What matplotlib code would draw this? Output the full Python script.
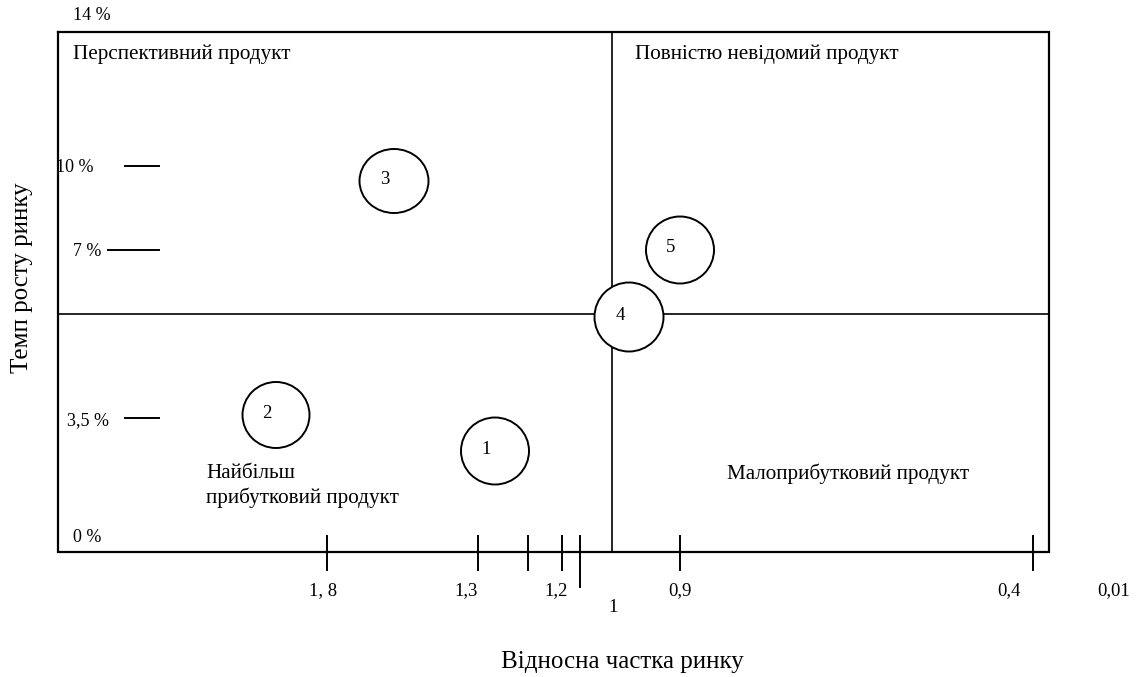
"""BCG-style matrix: market growth vs relative market share (canvas drawn in pixel units)."""

import matplotlib

matplotlib.use("Agg")
import matplotlib.pyplot as plt
from matplotlib.patches import Ellipse

plt.rcParams["font.family"] = ["Liberation Serif", "DejaVu Serif"]
INK = "black"
FS_NUM = 13.5   # axis numbers
FS_TXT = 15.2   # quadrant names
FS_TITLE = 18

# frame and quadrant split (canvas units = pixels)
BOX_L, BOX_T, BOX_R, BOX_B = 58, 32, 1049, 552
MID_X, MID_Y = 612, 314

# products (circles)
prod_labels = ["1", "2", "3", "4", "5"]
prod_x = [495, 276, 394, 629, 680]
prod_y = [451, 415, 181, 317, 250]
prod_w = [68, 67, 69, 69, 68]
prod_h = [67, 66, 64, 69, 67]

# x-axis ticks (relative market share)
xtick_pos = [327, 478, 528, 562, 580, 680, 1033]
xtick_low = [570, 570, 570, 570, 587, 570, 570]
xlab_text = ["1, 8", "1,3", "1,2", "1", "0,9", "0,4", "0,01"]
xlab_x = [323, 466, 556, 613, 680, 1009, 1114]
xlab_y = [591, 591, 591, 607, 591, 591, 591]

# y-axis marks (market growth rate)
ydash_y = [166, 250, 418]
ydash_x0 = [125, 108, 125]
ylab_text = ["10 %", "7 %", "3,5 %"]
ylab_right = [93, 101, 109]
ylab_y = [168, 252, 421]

quad_text = [
    "Перспективний продукт",
    "Повністю невідомий продукт",
    "Найбільш\nприбутковий продукт",
    "Малоприбутковий продукт",
]
quad_x = [73, 635, 206, 727]
quad_y = [54, 54, 486, 474]

fig = plt.figure(figsize=(11.42, 6.77), dpi=100)
ax = fig.add_axes([0, 0, 1, 1])
ax.set_xlim(0, 1142)
ax.set_ylim(677, 0)
ax.axis("off")

# frame
ax.plot(
    [BOX_L, BOX_R, BOX_R, BOX_L, BOX_L],
    [BOX_T, BOX_T, BOX_B, BOX_B, BOX_T],
    color=INK,
    lw=1.6,
    solid_joinstyle="miter",
)
ax.plot([MID_X, MID_X], [BOX_T, BOX_B], color=INK, lw=1.2)
ax.plot([BOX_L, BOX_R], [MID_Y, MID_Y], color=INK, lw=1.2)

# x ticks
for x, lo in zip(xtick_pos, xtick_low):
    ax.plot([x, x], [536, lo], color=INK, lw=1.4)
for t, x, y in zip(xlab_text, xlab_x, xlab_y):
    ax.text(x, y, t, ha="center", va="center", fontsize=FS_NUM, color=INK)

# y dashes
for y, x0 in zip(ydash_y, ydash_x0):
    ax.plot([x0, 159], [y, y], color=INK, lw=1.4)
for t, x, y in zip(ylab_text, ylab_right, ylab_y):
    ax.text(x, y, t, ha="right", va="center", fontsize=FS_NUM - 0.5, color=INK)
ax.text(73, 16, "14 %", ha="left", va="center", fontsize=FS_NUM - 0.5, color=INK)
ax.text(73, 537, "0 %", ha="left", va="center", fontsize=FS_NUM - 0.5, color=INK)

# products
for lab, x, y, w, h in zip(prod_labels, prod_x, prod_y, prod_w, prod_h):
    ax.add_patch(
        Ellipse((x, y), w, h, facecolor="white", edgecolor=INK, lw=1.4, zorder=3)
    )
    ax.text(x - 9, y - 2, lab, ha="center", va="center", fontsize=FS_NUM, color=INK, zorder=4)

# quadrant names
for t, x, y in zip(quad_text, quad_x, quad_y):
    ax.text(x, y, t, ha="left", va="center", fontsize=FS_TXT, color=INK, linespacing=1.3)

# axis titles
ax.text(622, 662, "Відносна частка ринку", ha="center", va="center", fontsize=FS_TITLE, color=INK)
ax.text(22, 278, "Темп росту ринку", ha="center", va="center", rotation=90, fontsize=FS_TITLE, color=INK)

fig.savefig("out.png", dpi=100)
